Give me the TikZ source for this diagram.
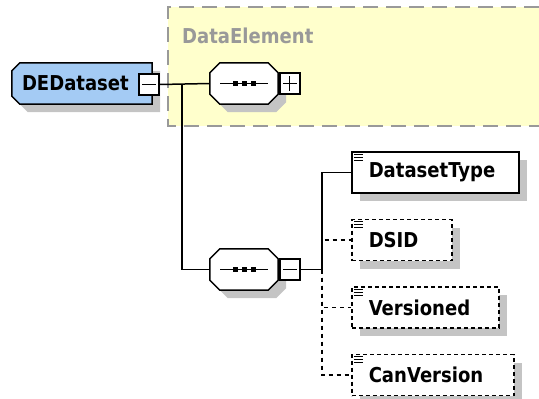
\documentclass[tikz,border=0pt]{standalone}
\usepackage{fontspec}
\setmainfont{DejaVu Sans}[FakeStretch=0.88]
\usetikzlibrary{positioning,shadows,backgrounds}

\definecolor{rootblue}{HTML}{A4CBF4}
\definecolor{grpyellow}{HTML}{FFFFCC}
\definecolor{grpgray}{HTML}{999999}
\definecolor{shadowgray}{HTML}{C4C4C4}

\tikzset{
  labelfont/.style={font=\fontsize{20.5pt}{24pt}\selectfont\bfseries},
  boxshadow/.style={drop shadow={shadow xshift=8pt,shadow yshift=-8pt,fill=shadowgray,opacity=1}},
  rootnode/.style={rectangle, minimum width=140pt, minimum height=41pt, inner xsep=10pt,
    inner ysep=0pt, text width=120pt, align=left, labelfont},
  seqnode/.style={rectangle, minimum width=68pt, minimum height=41pt, inner sep=0pt},
  outline/.style={draw, line width=1.5pt, boxshadow},
  pmbox/.style={rectangle, draw, line width=1.5pt, fill=white, minimum width=20pt,
    minimum height=21pt, inner sep=0pt},
  minusbox/.style={pmbox, path picture={\draw[line width=1pt]
    ([xshift=3pt]path picture bounding box.west) -- ([xshift=-3pt]path picture bounding box.east);}},
  plusbox/.style={pmbox, path picture={\draw[line width=1pt]
    ([xshift=3pt]path picture bounding box.west) -- ([xshift=-3pt]path picture bounding box.east)
    ([yshift=3pt]path picture bounding box.south) -- ([yshift=-3pt]path picture bounding box.north);}},
  elembox/.style={rectangle, draw, line width=1.5pt, fill=white, boxshadow,
    minimum height=41pt, inner xsep=17pt, inner ysep=0pt, align=left, labelfont},
  optbox/.style={elembox, dash pattern=on 4pt off 3pt},
  conn/.style={line width=1.5pt},
  optconn/.style={conn, dash pattern=on 4pt off 4pt},
}

\begin{document}
\begin{tikzpicture}[x=1pt,y=-1pt]
  \useasboundingbox (0,0) rectangle (539,399);

  % root element
  \node[rootnode] (root) at (82,83.5) {DEDataset};
  \node[minusbox] (rootpm) at (149,84.5) {};

  % sequences
  \node[seqnode] (seq1) at (244,83.5) {};
  \node[plusbox, right=1pt of seq1] (seq1pm) {};
  \node[seqnode] (seq2) at (244,269.5) {};
  \node[minusbox, right=1pt of seq2] (seq2pm) {};

  \foreach \s in {seq1,seq2} {
    \draw[line width=1pt] ([xshift=-24pt]\s.center) -- ([xshift=24pt]\s.center);
    \foreach \dx in {-9,0,9}
      \fill ([xshift=\dx pt]\s.center) +(-2.5,-2.5) rectangle +(2.5,2.5);
  }

  % group and outlines behind the nodes
  \begin{pgfonlayer}{background}
    \fill[grpyellow] (168,7) rectangle (539,126);
    \draw[grpgray, line width=1.5pt, dash pattern=on 15pt off 8pt] (539,7) -- (168,7) -- (168,126) -- (539,126);
    \filldraw[outline, fill=rootblue] (root.north east) -- ([xshift=8pt]root.north west)
      -- ([yshift=-8pt]root.north west) -- ([yshift=8pt]root.south west)
      -- ([xshift=8pt]root.south west) -- (root.south east) -- cycle;
    \foreach \s in {seq1,seq2}
      \filldraw[outline, fill=white] ([xshift=10pt]\s.north west) -- ([xshift=-10pt]\s.north east)
        -- ([yshift=-10pt]\s.north east) -- ([yshift=10pt]\s.south east)
        -- ([xshift=-10pt]\s.south east) -- ([xshift=10pt]\s.south west)
        -- ([yshift=10pt]\s.south west) -- ([yshift=-10pt]\s.north west) -- cycle;
  \end{pgfonlayer}
  \node[labelfont, text=grpgray, anchor=base west, inner sep=0pt] (grp) at (182,43) {DataElement};

  % children
  \node[elembox, text width=133pt, anchor=west] (dt) at (351,172.5) {DatasetType};
  \node[optbox, text width=66pt, below=25pt of dt.south west, anchor=north west] (dsid) {DSID};
  \node[optbox, text width=113pt, below=25pt of dsid.south west, anchor=north west] (ver) {Versioned};
  \node[optbox, text width=128pt, below=25pt of ver.south west, anchor=north west] (canver) {CanVersion};

  \foreach \e in {dt,dsid,ver,canver}
    \foreach \dy in {3,6,9}
      \draw[line width=1pt] ([shift={(3,\dy)}]\e.north west) -- +(9,0);

  % connectors
  \coordinate (j1) at (182,84.5);
  \coordinate (j2) at (322,269.5);
  \draw[conn] (rootpm.east) -- (seq1.west);
  \draw[conn] (j1) |- (seq2.west);
  \draw[conn] (seq2pm.east) -- (j2) |- (dt.west);
  \draw[optconn] (j2) |- (dsid.west);
  \draw[optconn] (j2) |- (ver.west);
  \draw[optconn] (j2) |- (canver.west);
\end{tikzpicture}
\end{document}
